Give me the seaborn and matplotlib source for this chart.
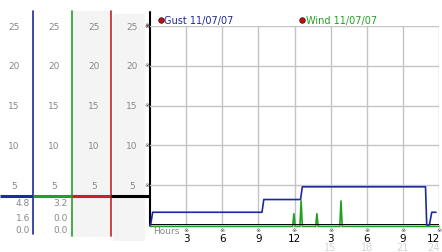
import matplotlib
matplotlib.use("Agg")
import matplotlib.pyplot as plt
import matplotlib.transforms as mtransforms
import seaborn as sns
import pandas as pd

sns.set_theme(style="white")
plt.rcParams['font.family'] = ['DejaVu Sans']

# ---- data ----
gust_hours = [0.0, 0.05, 0.22, 9.3, 9.45, 12.5, 12.65, 22.88, 22.98, 23.2, 23.4, 23.75]
gust_vals = [0.0, 0.0, 1.6, 1.6, 3.2, 3.2, 4.8, 4.8, 0.0, 0.0, 1.6, 1.6]
wind_hours = [0.0, 11.85, 11.95, 12.05, 12.45, 12.55, 12.65, 13.76, 13.86, 13.96,
              15.76, 15.86, 15.96, 24.0]
wind_vals = [0.0, 0.0, 1.6, 0.0, 0.0, 3.2, 0.0, 0.0, 1.6, 0.0, 0.0, 3.2, 0.0, 0.0]
y_ticks = [5, 10, 15, 20, 25]
x_ticks = [3, 6, 9, 12, 15, 18, 21, 24]
x_labels_top = ["3", "6", "9", "12", "3", "6", "9", "12"]
x_labels_24 = {15: "15", 18: "18", 21: "21", 24: "24"}
gust_summary = ["4.8", "1.6", "0.0"]
wind_summary = ["3.2", "0.0", "0.0"]
legend_labels = ["Gust 11/07/07", "Wind 11/07/07"]

BLUE = "#1c2a9c"
GREEN = "#22a022"
RED = "#cc2020"
GRAYTXT = "#888888"
GRID = "#c4c4c4"

W, H = 442, 253
fig = plt.figure(figsize=(W / 100, H / 100), dpi=100)
fig.patch.set_facecolor("white")

# background / decoration axes in pixel coords
bg = fig.add_axes([0, 0, 1, 1])
bg.set_xlim(0, W)
bg.set_ylim(H, 0)
bg.axis("off")

# gray columns
bg.fill_between([73, 111], 12, 238, color="#f4f4f4", lw=0)
bg.fill_between([113, 145], 15, 242, color="#f4f4f4", lw=0)

# main axes: hour 0 at x=150, 24 at x=439; value 0 at y=226, 25 at y=27
L, R, T, B = 150, 439, 27, 226
ax = fig.add_axes([L / W, (H - B) / H, (R - L) / W, (B - T) / H])
ax.set_xlim(0, 24)
ax.set_ylim(0, 25)
ax.patch.set_alpha(0)
for s in ax.spines.values():
    s.set_visible(False)
ax.set_xticks([])
ax.set_yticks([])

for v in y_ticks:
    ax.axhline(v, color=GRID, lw=1, zorder=1)
for h in x_ticks:
    ax.axvline(h, color=GRID, lw=1, zorder=1)

gust_df = pd.DataFrame({"hour": gust_hours, "value": gust_vals})
wind_df = pd.DataFrame({"hour": wind_hours, "value": wind_vals})

off = mtransforms.offset_copy(ax.transData, fig=fig, x=0, y=-1.4, units="dots")
sns.lineplot(data=wind_df, x="hour", y="value", ax=ax, color=GREEN, lw=1.2,
             estimator=None, sort=False, zorder=3, transform=off, clip_on=False)
ax.plot([0, 24], [0, 0], color="black", lw=1.4, zorder=4, solid_capstyle="butt")
sns.lineplot(data=gust_df, x="hour", y="value", ax=ax, color=BLUE, lw=1.2,
             estimator=None, sort=False, zorder=5, clip_on=False)
ax.set_xlabel("")
ax.set_ylabel("")
ax.set_xlim(0, 24)
ax.set_ylim(0, 25)

# left spine of main chart
bg.plot([150, 150], [13, 226], color="black", lw=1.5)

def ypix(v):
    return B - v * (B - T) / 25.0

# left panel value labels
col_centers = [14, 54, 94, 132]
for cx in col_centers:
    for v in y_ticks:
        bg.text(cx, ypix(v), str(v), color=GRAYTXT, fontsize=6.5,
                ha="center", va="center")
for v in y_ticks:
    bg.text(147, ypix(v) - 1, "※", color="#444444", fontsize=4.5,
            ha="center", va="center")
bg.text(147, 25, "※", color="#444444", fontsize=4.5, ha="center", va="center")

# summary values
for i, (g, w) in enumerate(zip(gust_summary, wind_summary)):
    yy = [204, 218.5, 231][i]
    bg.text(30, yy, g, color=GRAYTXT, fontsize=6.5, ha="right", va="center")
    bg.text(68, yy, w, color=GRAYTXT, fontsize=6.5, ha="right", va="center")

# colored separators
bg.plot([33, 33], [12, 235], color=BLUE, lw=1.2)
bg.plot([72, 72], [12, 237], color=GREEN, lw=1.2)
bg.plot([111, 111], [12, 237], color=RED, lw=1.2)
bg.plot([0, 33], [197, 197], color=BLUE, lw=2.2, solid_capstyle="butt")
bg.plot([33, 72], [197, 197], color=GREEN, lw=2.2, solid_capstyle="butt")
bg.plot([72, 111], [197, 197], color=RED, lw=2.2, solid_capstyle="butt")
bg.plot([111, 150], [197, 197], color="black", lw=2.2, solid_capstyle="butt")

# bottom ticks and labels
def xpix(h):
    return L + h * (R - L) / 24.0

for h, lab in zip(x_ticks, x_labels_top):
    xp = xpix(h)
    lx = xp if h < 24 else xp - 6
    bg.text(xp, 231, "※", color="#444444", fontsize=4.5,
            ha="center", va="center")
    bg.text(lx, 239, lab, color="black", fontsize=7.5,
            ha="center", va="center")
    if h in x_labels_24:
        bg.text(lx, 248, x_labels_24[h], color="#d4d4d4", fontsize=7,
                ha="center", va="center")
bg.text(153, 232, "Hours", color=GRAYTXT, fontsize=6.5, ha="left", va="center")

# legend
for x0, lab, c in [(161, legend_labels[0], BLUE), (302, legend_labels[1], GREEN)]:
    bg.scatter([x0], [20.5], s=16, color="#c01010", edgecolor="#400000",
               linewidth=0.5, zorder=6)
    bg.text(x0 + 3.5, 20.5, lab, color=c, fontsize=7, ha="left", va="center")

fig.savefig("out.png", dpi=100, facecolor="white")
